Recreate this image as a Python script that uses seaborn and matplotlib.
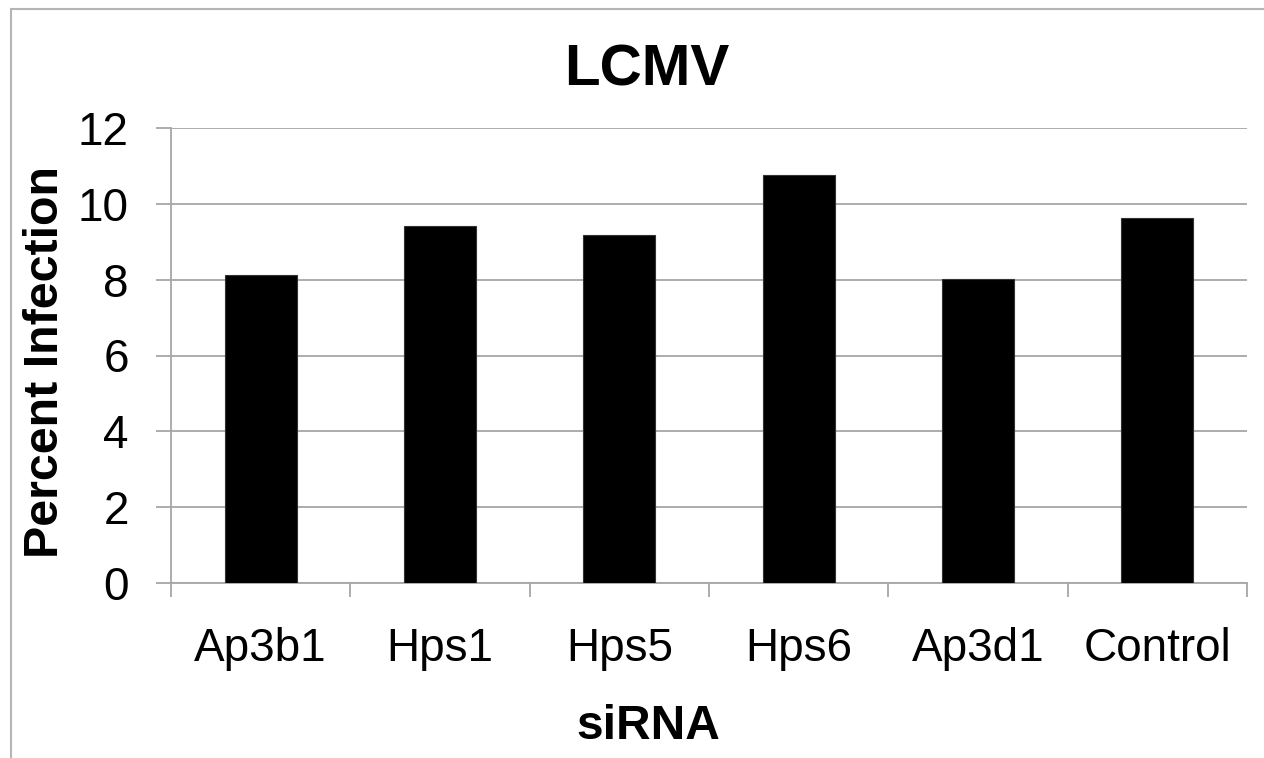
import matplotlib
matplotlib.use("Agg")
import matplotlib.pyplot as plt
import seaborn as sns
import pandas as pd
from matplotlib.ticker import FixedLocator
from matplotlib.lines import Line2D

categories = ["Ap3b1", "Hps1", "Hps5", "Hps6", "Ap3d1", "Control"]
values = [8.13, 9.42, 9.18, 10.77, 8.01, 9.63]
y_ticks = [0, 2, 4, 6, 8, 10, 12]

sns.set_theme(style="white")
plt.rcParams['font.family'] = ['Liberation Sans', 'DejaVu Sans']
plt.rcParams['text.color'] = 'black'

df = pd.DataFrame({"siRNA": categories, "Percent Infection": values})

W, H = 1264, 758
fig = plt.figure(figsize=(W / 100, H / 100), dpi=100)
ax = fig.add_axes([171 / W, 1 - 583 / H, (1247 - 171) / W, (583 - 128) / H])

grid_c = "#a6a6a6"
sns.barplot(data=df, x="siRNA", y="Percent Infection", color="black",
            width=0.4, edgecolor="#333333", linewidth=0.8, ax=ax, zorder=3)

ax.set_ylim(0, 12)
ax.set_xlim(-0.5, len(categories) - 0.5)
ax.set_yticks(y_ticks)
ax.yaxis.grid(True, color=grid_c, linewidth=1.3, zorder=0)
ax.set_axisbelow(True)

for s in ["top", "right"]:
    ax.spines[s].set_visible(False)
for s in ["left", "bottom"]:
    ax.spines[s].set_color(grid_c)
    ax.spines[s].set_linewidth(1.3)

ax.tick_params(axis="y", which="major", left=True, length=10.5, width=1.3,
               color=grid_c, pad=20, labelsize=33, labelcolor="black")
ax.tick_params(axis="x", which="major", bottom=True, length=0, pad=32,
               labelsize=33, labelcolor="black")
ax.xaxis.set_minor_locator(FixedLocator([i - 0.5 for i in range(len(categories) + 1)]))
ax.tick_params(axis="x", which="minor", bottom=True, length=10, width=1.3,
               color=grid_c, direction="out")

ax.set_xlabel("")
ax.set_ylabel("")

fig.text(647 / W, 1 - 85 / H, "LCMV", ha="center", va="baseline",
         fontsize=42, fontweight="bold", color="black")
fig.text(648 / W, 1 - 739 / H, "siRNA", ha="center", va="baseline",
         fontsize=34.5, fontweight="bold", color="black")
fig.text(46 / W, 1 - 362 / H, "Percent Infection", ha="center", va="center",
         rotation=90, fontsize=34.8, fontweight="bold", color="black")

# outer chart-area border (top and left visible)
fig.add_artist(Line2D([11 / W, 11 / W], [0, 1 - 9 / H], transform=fig.transFigure,
                      color="#b5b5b5", linewidth=1.5))
fig.add_artist(Line2D([11 / W, 1], [1 - 9 / H, 1 - 9 / H], transform=fig.transFigure,
                      color="#b5b5b5", linewidth=1.5))

fig.savefig("out.png", dpi=100, facecolor="white")
